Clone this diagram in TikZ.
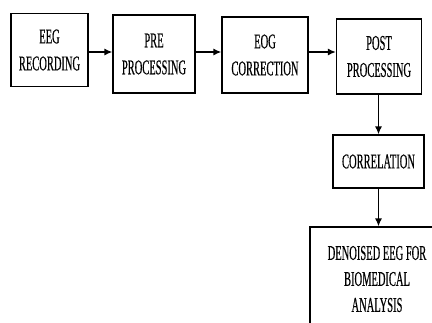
\documentclass[tikz,border=0pt]{standalone}
\usepackage{fontspec}
\newfontfamily\boxfont[FakeStretch=0.5, FakeBold=0.4]{Liberation Serif}
\usetikzlibrary{arrows.meta}

\begin{document}
\begin{tikzpicture}[x=1pt, y=-1pt,
  block/.style={draw, line width=1.2pt, align=center, inner sep=0pt,
    font=\boxfont\fontsize{21}{27}\selectfont},
  link/.style={line width=1.4pt, -{Latex[length=8pt,width=7pt]}}]
  \useasboundingbox (0,0) rectangle (432,322);
  \clip (0,0) rectangle (432,322);
  \node[block, minimum width=77pt, minimum height=73pt] (rec) at (49.5,50) {EEG\\RECORDING};
  \node[block, minimum width=82pt, minimum height=78pt] (pre) at (154,54) {PRE\\PROCESSING};
  \node[block, minimum width=86pt, minimum height=76pt] (eog) at (265,55) {EOG\\CORRECTION};
  \node[block, minimum width=85pt, minimum height=75pt] (post) at (379,56.5) {POST\\PROCESSING};
  \node[block, minimum width=91pt, minimum height=53pt] (corr) at (378.5,161.5) {CORRELATION};
  \node[block, minimum width=134pt, minimum height=104pt,
    font=\boxfont\fontsize{21}{26}\selectfont] (out) at (377,279) {DENOISED EEG FOR\\BIOMEDICAL\\ANALYSIS};
  % connections
  \draw[link] (rec.east |- 0,52) -- (pre.west |- 0,52);
  \draw[link] (pre.east |- 0,52) -- (eog.west |- 0,52);
  \draw[link] (eog.east |- 0,52) -- (post.west |- 0,52);
  \draw[link] (post.south -| corr) -- (corr.north);
  \draw[link] (corr.south) -- (corr.south |- out.north);
\end{tikzpicture}
\end{document}
